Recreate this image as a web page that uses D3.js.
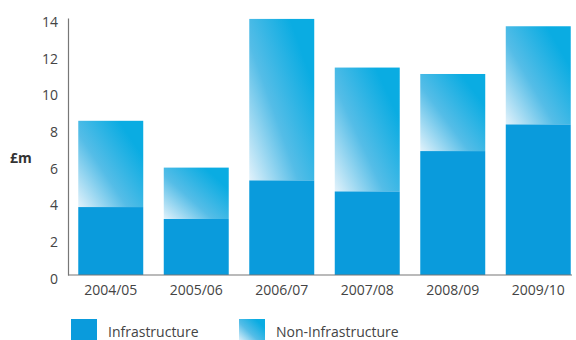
<!DOCTYPE html>
<html>
<head>
<meta charset="utf-8">
<script src="https://cdn.jsdelivr.net/npm/d3@7"></script>
<style>
  body { margin: 0; background: #fff; }
  svg { display: block; font-family: "Open Sans", "Noto Sans", sans-serif; }
</style>
</head>
<body>
<div id="chart"></div>
<script>
const years = ["2004/05", "2005/06", "2006/07", "2007/08", "2008/09", "2009/10"];
const infrastructure = [3.7, 3.05, 5.15, 4.55, 6.75, 8.2];
const nonInfrastructure = [4.7, 2.8, 8.8, 6.75, 4.2, 5.35];
const yTicks = [0, 2, 4, 6, 8, 10, 12, 14];

const width = 576, height = 340;
const margin = {top: 18, right: 0, bottom: 65, left: 68};

const svg = d3.select('#chart')
  .append("svg")
    .attr("width", width)
    .attr("height", height);

const defs = svg.append("defs");
const grad = defs.append("linearGradient")
    .attr("id", "nonInfra")
    .attr("x1", "0%").attr("y1", "100%")
    .attr("x2", "85%").attr("y2", "25%");
grad.append("stop").attr("offset", "0%").attr("stop-color", "#e2f2fb");
grad.append("stop").attr("offset", "50%").attr("stop-color", "#55bde7");
grad.append("stop").attr("offset", "100%").attr("stop-color", "#0aace2");

const x = d3.scaleBand()
  .domain(years)
  .range([margin.left, 581])
  .paddingInner(0.24)
  .paddingOuter(0.12);

const y = d3.scaleLinear()
  .domain([0, 14])
  .range([275, margin.top]);

// bars
const g = svg.append("g");
years.forEach(function(yr, i) {
  const inf = infrastructure[i], non = nonInfrastructure[i];
  g.append("rect")
    .attr("x", x(yr))
    .attr("width", x.bandwidth())
    .attr("y", y(inf + non))
    .attr("height", y(inf) - y(inf + non))
    .attr("fill", "url(#nonInfra)");
  g.append("rect")
    .attr("x", x(yr))
    .attr("width", x.bandwidth())
    .attr("y", y(inf))
    .attr("height", y(0) - y(inf))
    .attr("fill", "#0a9bdc");
});

// axes
const yAxis = svg.append("g")
  .attr("transform", `translate(${margin.left},0)`)
  .call(d3.axisLeft(y).tickValues(yTicks).tickSize(0).tickPadding(10).tickFormat(d3.format("d")));
yAxis.select(".domain").attr("stroke", "#777").attr("stroke-width", 1.2);
yAxis.selectAll("text").attr("font-size", 14).attr("fill", "#444")
  .attr("font-family", "'Open Sans', sans-serif").attr("dy", "0.6em");

const xAxis = svg.append("g")
  .attr("transform", `translate(0,${y(0)})`)
  .call(d3.axisBottom(x).tickSize(0).tickPadding(10));
xAxis.select(".domain").attr("stroke", "#777").attr("stroke-width", 1.2)
  .attr("d", `M${margin.left},0H572`);
xAxis.selectAll("text").attr("font-size", 14).attr("fill", "#444")
  .attr("font-family", "'Open Sans', sans-serif");

// y label
svg.append("text")
  .attr("x", 10).attr("y", 163)
  .attr("font-size", 14).attr("font-weight", "bold").attr("fill", "#333")
  .text("£m");

// legend
const legend = [
  {label: "Infrastructure", fill: "#0a9bdc", x: 71},
  {label: "Non-Infrastructure", fill: "url(#nonInfra)", x: 239}
];
legend.forEach(function(d) {
  svg.append("rect")
    .attr("x", d.x).attr("y", 319)
    .attr("width", 26).attr("height", 22)
    .attr("fill", d.fill);
  svg.append("text")
    .attr("x", d.x + 37).attr("y", 337)
    .attr("font-size", 14).attr("fill", "#444")
    .text(d.label);
});
</script>
</body>
</html>
